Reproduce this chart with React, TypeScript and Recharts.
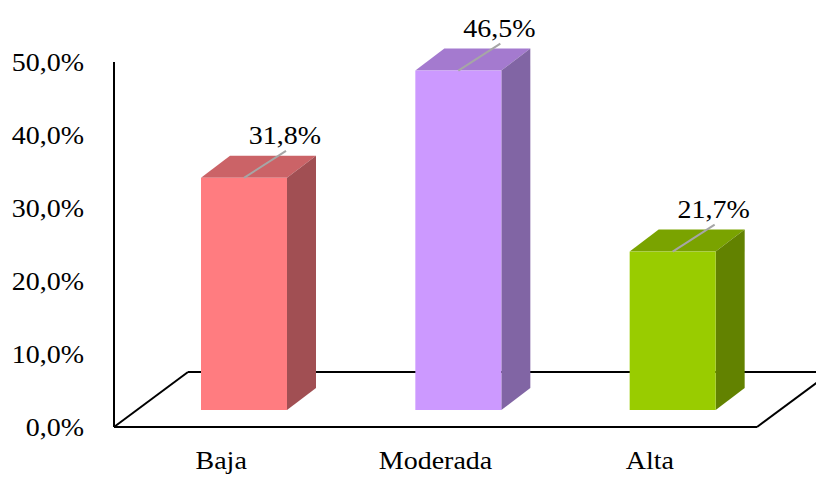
import React from "react";
import { BarChart, Bar, XAxis, YAxis, Customized } from "recharts";

const categories = ["Baja", "Moderada", "Alta"];
const percentages = [31.8, 46.5, 21.7];
const yTicks = [0, 10, 20, 30, 40, 50];

// face colours per bar: front, top, side
const frontColors = ["#FF7C80", "#CC99FF", "#99CC00"];
const topColors = ["#CB6367", "#A47ACF", "#7AA300"];
const sideColors = ["#A14F53", "#8165A4", "#628200"];

const data = categories.map((name, i) => ({ name, value: percentages[i] }));

const W = 816;
const H = 477;
const MARGIN = { top: 62, right: 59, bottom: 0, left: 0 };
const Y_AXIS_W = 114;
const X_AXIS_H = 50;

// floor depth and where the bars sit inside it
const FLOOR_DX = 74;
const FLOOR_DY = 55;
const BAR_SHIFT_X = 23;
const BAR_SHIFT_Y = 17;
const BAR_DEPTH_X = 29;
const BAR_DEPTH_Y = 22;

const FONT = "Liberation Serif";
const FONT_SIZE = 25;
const STRETCH = 1.12;

const fmt = (v: number) => v.toFixed(1).replace(".", ",") + "%";

function StretchText({ x, y, anchor, children }: any) {
  return (
    <text
      transform={`translate(${x},${y}) scale(${STRETCH},1)`}
      textAnchor={anchor}
      style={{ fontFamily: FONT, fontSize: FONT_SIZE }}
      fill="#000"
    >
      {children}
    </text>
  );
}

function YTick({ x, y, payload }: any) {
  return (
    <StretchText x={x} y={y + 9} anchor="end">
      {fmt(payload.value)}
    </StretchText>
  );
}

function XTick({ x, y, payload }: any) {
  return (
    <StretchText x={x} y={y + 42} anchor="middle">
      {payload.value}
    </StretchText>
  );
}

function Floor() {
  const left = Y_AXIS_W;
  const right = W - MARGIN.right;
  const front = H - X_AXIS_H;
  const back = front - FLOOR_DY;
  return (
    <g stroke="#000" strokeWidth={2} fill="none">
      <line x1={left} y1={front} x2={left + FLOOR_DX} y2={back} />
      <line x1={left + FLOOR_DX} y1={back} x2={right + FLOOR_DX} y2={back} />
      <line x1={right} y1={front} x2={right + FLOOR_DX} y2={back} />
    </g>
  );
}

function Bar3D(props: any) {
  const { x, y, width, height, index, value } = props;
  const fx = x + BAR_SHIFT_X;
  const fy = y - BAR_SHIFT_Y;
  const x2 = fx + width;
  const dx = BAR_DEPTH_X;
  const dy = BAR_DEPTH_Y;
  const cx = fx + width / 2;
  return (
    <g>
      <polygon
        points={`${fx},${fy} ${fx + dx},${fy - dy} ${x2 + dx},${fy - dy} ${x2},${fy}`}
        fill={topColors[index]}
      />
      <polygon
        points={`${x2},${fy} ${x2 + dx},${fy - dy} ${x2 + dx},${fy + height - dy} ${x2},${fy + height}`}
        fill={sideColors[index]}
      />
      <rect x={fx} y={fy} width={width} height={height} fill={frontColors[index]} />
      <line x1={cx} y1={fy} x2={cx + 42} y2={fy - 27} stroke="#A6A6A6" strokeWidth={2} />
      <StretchText x={cx + 41} y={fy - 34} anchor="middle">
        {fmt(value)}
      </StretchText>
    </g>
  );
}

export default function App() {
  return (
    <div style={{ position: "absolute", left: 0, top: 0, background: "#fff" }}>
      <BarChart width={W} height={H} data={data} margin={MARGIN} barSize={86}>
        <Customized component={Floor} />
        <XAxis
          dataKey="name"
          height={X_AXIS_H}
          tickLine={false}
          tickSize={0}
          tickMargin={0}
          axisLine={{ stroke: "#000", strokeWidth: 2 }}
          tick={<XTick />}
          interval={0}
        />
        <YAxis
          width={Y_AXIS_W}
          domain={[0, 50]}
          ticks={yTicks}
          tickLine={false}
          tickSize={0}
          tickMargin={30}
          axisLine={{ stroke: "#000", strokeWidth: 2 }}
          tick={<YTick />}
        />
        <Bar dataKey="value" shape={<Bar3D />} isAnimationActive={false} />
      </BarChart>
    </div>
  );
}
